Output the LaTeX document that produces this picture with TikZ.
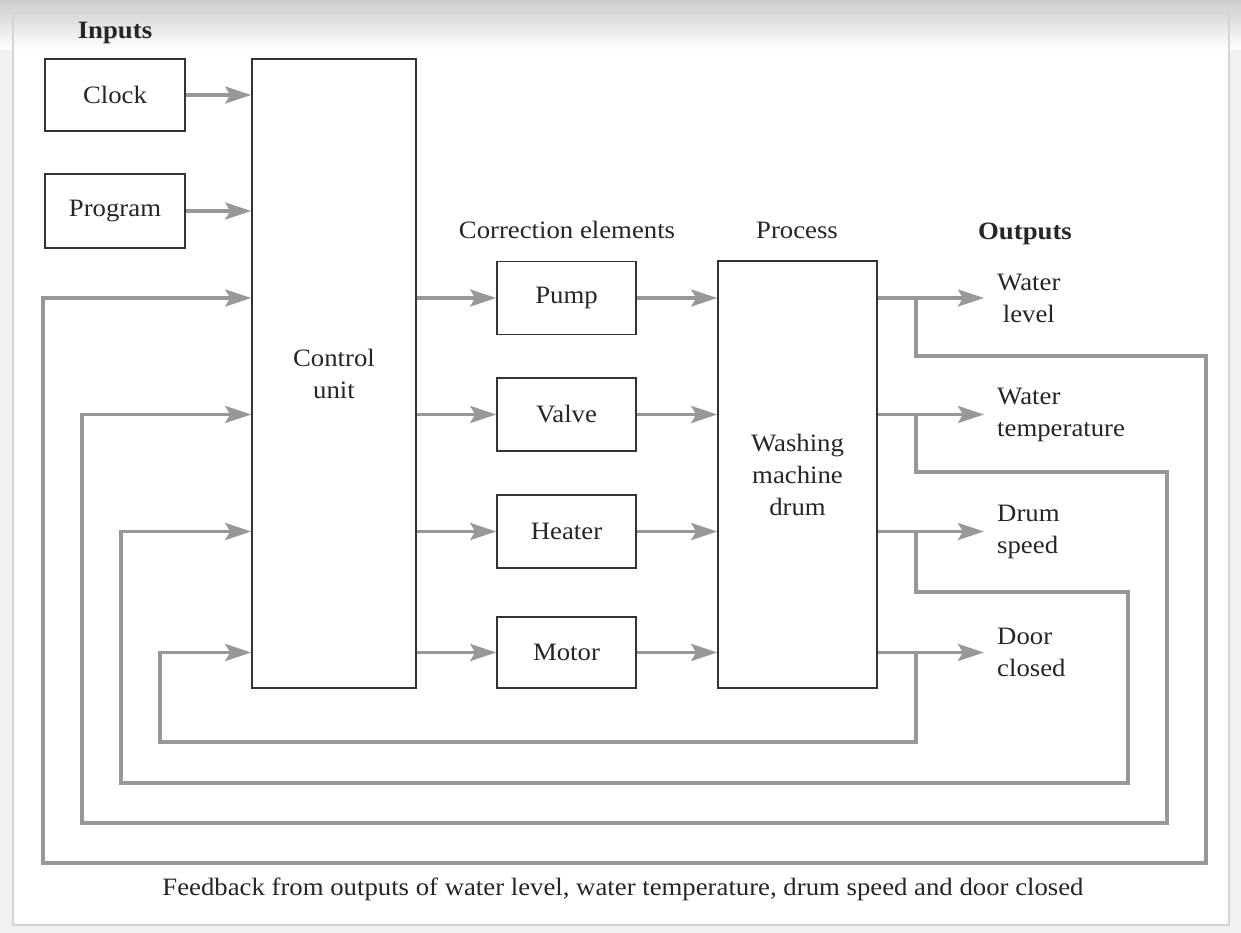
\documentclass[tikz,border=0pt]{standalone}
\usepackage{fontspec}
\setmainfont{Liberation Serif}[FakeStretch=1.07]
\usetikzlibrary{arrows.meta}
\definecolor{fbgray}{HTML}{989898}
\definecolor{bxdark}{HTML}{333333}
\definecolor{pagebg}{HTML}{F2F2F2}
\definecolor{framegray}{HTML}{D4D4D4}
\newcommand\mydiagfont{\fontsize{25}{32}\selectfont}
\begin{document}
\begin{tikzpicture}[x=1pt,y=-1pt,
  blk/.style={draw=bxdark, line width=1.6pt, inner sep=0pt, align=center, font=\mydiagfont, text=black!85},
  lbl/.style={inner sep=0pt, font=\mydiagfont, text=black!85},
  fbl/.style={draw=fbgray, line width=3.6pt},
  arr/.style={fbl, -{Stealth[length=26pt,width=17pt,inset=5pt]}}]
\useasboundingbox (0,0) rectangle (1241,933);
% background
\fill[pagebg] (0,0) rectangle (1241,933);
\fill[white] (13,13) rectangle (1229,925);
\shade[top color=black!20, bottom color=white] (0,0) rectangle (1241,50);
\draw[framegray, line width=2.5pt] (13,13) rectangle (1229,925);

% blocks
\node[blk, minimum width=140pt, minimum height=72pt] (clock) at (115,95) {Clock};
\node[blk, minimum width=140pt, minimum height=74pt] (prog) at (115,211) {Program};
\node[blk, minimum width=164pt, minimum height=629pt] (ctrl) at (334,373.5) {Control\\unit};
\node[blk, minimum width=139pt, minimum height=73pt] (pump) at (566.5,298) {Pump};
\node[blk, minimum width=139pt, minimum height=73pt] (valve) at (566.5,414.5) {Valve};
\node[blk, minimum width=139pt, minimum height=73pt] (heater) at (566.5,531.5) {Heater};
\node[blk, minimum width=139pt, minimum height=71pt] (motor) at (566.5,652.5) {Motor};
\node[blk, minimum width=159pt, minimum height=427pt] (drum) at (797.5,474.5) {Washing\\machine\\drum};

% headings
\node[lbl, font=\mydiagfont\bfseries] (inputs) at (115,33) {Inputs};
\node[lbl] (corr) at (567,230) {Correction elements};
\node[lbl] (procl) at (797,230) {Process};
\node[lbl, font=\mydiagfont\bfseries] (outputs) at (1025,234) {Outputs};

% output labels
\node[lbl, anchor=west, align=center] (wl) at (997,298) {Water\\level};
\node[lbl, anchor=west, align=left] (wt) at (997,414.5) {Water\\temperature};
\node[lbl, anchor=west, align=left] (ds) at (997,531.5) {Drum\\speed};
\node[lbl, anchor=west, align=left] (dc) at (997,652.5) {Door\\closed};

\node[lbl] (fbtext) at (623,889) {Feedback from outputs of water level, water temperature, drum speed and door closed};

% inputs to control
\draw[arr] (clock.east) -- (ctrl.west |- clock);
\draw[arr] (prog.east) -- (ctrl.west |- prog);

% control to correction elements
\draw[arr] (ctrl.east |- pump) -- (pump.west);
\draw[arr] (ctrl.east |- valve) -- (valve.west);
\draw[arr] (ctrl.east |- heater) -- (heater.west);
\draw[arr] (ctrl.east |- motor) -- (motor.west);

% correction elements to drum
\draw[arr] (pump.east) -- (drum.west |- pump);
\draw[arr] (valve.east) -- (drum.west |- valve);
\draw[arr] (heater.east) -- (drum.west |- heater);
\draw[arr] (motor.east) -- (drum.west |- motor);

% outputs
\draw[arr, shorten >=13pt] (drum.east |- pump) -- (wl.west |- pump);
\draw[arr, shorten >=13pt] (drum.east |- valve) -- (wt.west |- valve);
\draw[arr, shorten >=13pt] (drum.east |- heater) -- (ds.west |- heater);
\draw[arr, shorten >=13pt] (drum.east |- motor) -- (dc.west |- motor);

% branch points
\coordinate (b1) at (916,298);
\coordinate (b2) at (916,414.5);
\coordinate (b3) at (916,531.5);
\coordinate (b4) at (916,652.5);

% feedback loops
\draw[arr] (b1) -- (916,356) -- (1206,356) -- (1206,863) -- (43,863) -- (43,298) -- (ctrl.west |- b1);
\draw[arr] (b2) -- (916,472) -- (1167,472) -- (1167,823) -- (82,823) -- (82,414.5) -- (ctrl.west |- b2);
\draw[arr] (b3) -- (916,592) -- (1128,592) -- (1128,783) -- (121,783) -- (121,531.5) -- (ctrl.west |- b3);
\draw[arr] (b4) -- (916,742) -- (160,742) -- (160,652.5) -- (ctrl.west |- b4);
\end{tikzpicture}
\end{document}
